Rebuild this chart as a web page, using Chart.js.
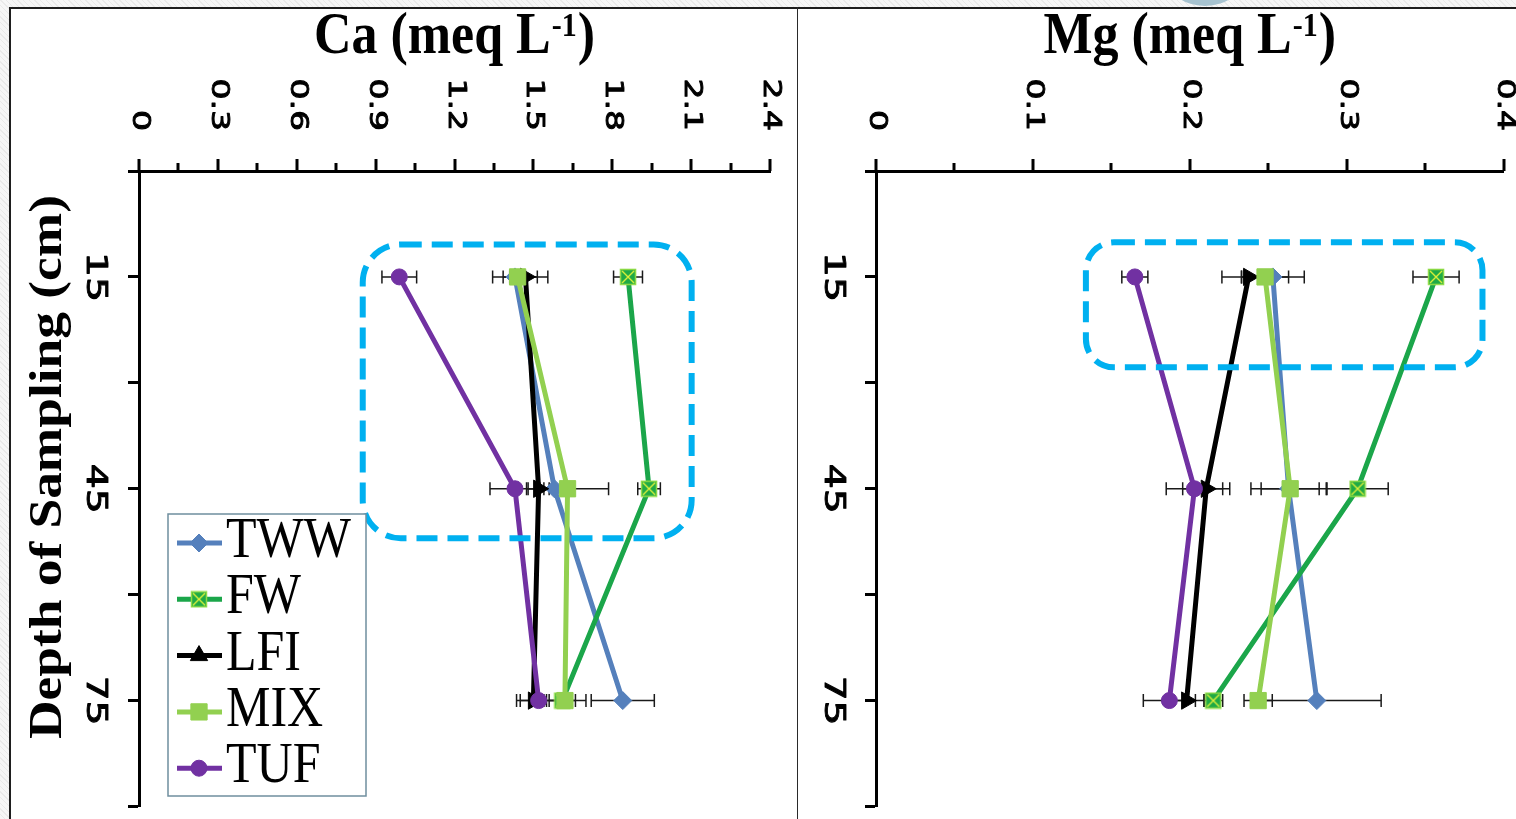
<!DOCTYPE html>
<html>
<head>
<meta charset="utf-8">
<script src="https://cdn.jsdelivr.net/npm/chart.js@4.4.1/dist/chart.umd.min.js"></script>
<style>
  html, body { margin: 0; padding: 0; }
  body {
    width: 1516px; height: 819px; overflow: hidden; position: relative;
    background: repeating-linear-gradient(45deg, #f6f6f6 0 3px, #e9e9e9 3px 4px);
  }
  #blob { position: absolute; left: 1165px; top: -58px; width: 80px; height: 64px; border-radius: 50%; background: #a7c3d0; }
  #frame { position: absolute; left: 9px; top: 7px; width: 1520px; height: 830px; background: #fff; border-left: 2px solid #1e1e1e; border-top: 2px solid #1e1e1e; }
  #divider { position: absolute; left: 797px; top: 7px; width: 1px; height: 812px; background: #2a2a2a; }
  canvas { position: absolute; left: 0; top: 0; }
</style>
</head>
<body>
<div id="blob"></div>
<div id="frame"></div>
<div id="divider"></div>
<canvas id="caChart" width="1516" height="819"></canvas>
<canvas id="mgChart" width="1516" height="819"></canvas>
<script>
// ---- data -------------------------------------------------------------
const depths = [15, 45, 75];
const seriesNames = ['TWW', 'FW', 'LFI', 'MIX', 'TUF'];

// Calcium, meq L-1 (mean and standard error per depth)
const caTWW = [1.43, 1.58, 1.84];
const caFW  = [1.86, 1.94, 1.61];
const caLFI = [1.47, 1.52, 1.50];
const caMIX = [1.44, 1.63, 1.62];
const caTUF = [0.99, 1.43, 1.52];
const caTWWErr = [0.085, 0.04, 0.12];
const caFWErr  = [0.055, 0.043, 0.05];
const caLFIErr = [0.085, 0.04, 0.05];
const caMIXErr = [0.03, 0.156, 0.08];
const caTUFErr = [0.066, 0.095, 0.084];

// Magnesium, meq L-1
const mgTWW = [0.253, 0.263, 0.281];
const mgFW  = [0.357, 0.307, 0.215];
const mgLFI = [0.2375, 0.2105, 0.198];
const mgMIX = [0.248, 0.264, 0.2436];
const mgTUF = [0.165, 0.203, 0.187];
const mgTWWErr = [0.02, 0.024, 0.041];
const mgFWErr  = [0.0147, 0.0195, 0.006];
const mgLFIErr = [0.017, 0.015, 0.0115];
const mgMIXErr = [0.015, 0.0185, 0.009];
const mgTUFErr = [0.0083, 0.018, 0.0166];

// axis tick labels
const caTicks = ['0', '0.3', '0.6', '0.9', '1.2', '1.5', '1.8', '2.1', '2.4'];
const mgTicks = ['0', '0.1', '0.2', '0.3', '0.4'];
const depthTicks = ['15', '45', '75'];

// highlighted regions (value range, depth range)
const caHighlight = { x: [0.851, 2.102], depth: [10.4, 52.0] };
const mgHighlight = { x: [0.1338, 0.3866], depth: [10.1, 27.8] };

// ---- styling ------------------------------------------------------------
const COLORS = { TWW: '#5580BC', FW: '#1BA64A', LFI: '#000000', MIX: '#92D050', TUF: '#7131A2' };

function fwMarker(size) {
  const c = document.createElement('canvas');
  c.width = size; c.height = size;
  const g = c.getContext('2d');
  g.fillStyle = '#1FAA45';
  g.fillRect(1, 1, size - 2, size - 2);
  g.strokeStyle = '#8EDB45'; g.lineWidth = 1.5;
  g.strokeRect(1.5, 1.5, size - 3, size - 3);
  g.strokeStyle = '#E1F23A'; g.lineWidth = 1.4;
  g.beginPath();
  g.moveTo(3, 3); g.lineTo(size - 3, size - 3);
  g.moveTo(size - 3, 3); g.lineTo(3, size - 3);
  g.stroke();
  return c;
}
const FW_MARK = fwMarker(18);

const MARKERS = {
  TWW: { style: 'rectRot', radius: 9, rotation: 0 },
  FW:  { style: FW_MARK, radius: 9, rotation: 0 },
  LFI: { style: 'triangle', radius: 10, rotation: 90 },
  MIX: { style: 'rect', radius: 11.5, rotation: 0 },
  TUF: { style: 'circle', radius: 8, rotation: 0 }
};

function makeDatasets(values, errors) {
  return seriesNames.map((name, k) => ({
    label: name,
    data: depths.map((d, i) => ({ x: values[k][i], y: d })),
    errors: errors[k],
    showLine: true,
    borderColor: COLORS[name],
    backgroundColor: COLORS[name],
    borderWidth: 5,
    pointStyle: MARKERS[name].style,
    pointRadius: MARKERS[name].radius,
    pointRotation: MARKERS[name].rotation,
    pointBackgroundColor: COLORS[name],
    pointBorderColor: COLORS[name],
    pointBorderWidth: 1,
    order: seriesNames.length - k
  }));
}

function drawText(ctx, text, x, y, o) {
  ctx.save();
  ctx.translate(x, y);
  ctx.rotate(o.rot || 0);
  ctx.scale(o.sx || 1, o.sy || 1);
  ctx.font = o.font;
  ctx.fillStyle = o.color || '#000';
  ctx.textAlign = o.align || 'left';
  ctx.textBaseline = o.baseline || 'alphabetic';
  ctx.fillText(text, 0, 0);
  if (o.stroke) {
    ctx.strokeStyle = o.color || '#000';
    ctx.lineWidth = o.stroke;
    ctx.lineJoin = 'round';
    ctx.strokeText(text, 0, 0);
  }
  ctx.restore();
}

function roundRect(ctx, x, y, w, h, r) {
  ctx.beginPath();
  ctx.moveTo(x + r, y);
  ctx.lineTo(x + w - r, y);
  ctx.arcTo(x + w, y, x + w, y + r, r);
  ctx.lineTo(x + w, y + h - r);
  ctx.arcTo(x + w, y + h, x + w - r, y + h, r);
  ctx.lineTo(x + r, y + h);
  ctx.arcTo(x, y + h, x, y + h - r, r);
  ctx.lineTo(x, y + r);
  ctx.arcTo(x, y, x + r, y, r);
  ctx.closePath();
}

// error bars under the series
const errorBars = {
  id: 'errorBars',
  beforeDatasetsDraw(chart) {
    const { ctx, scales: { x, y } } = chart;
    ctx.save();
    ctx.strokeStyle = '#1a1a1a';
    ctx.lineWidth = 1.5;
    chart.data.datasets.forEach(ds => {
      ds.data.forEach((p, i) => {
        const e = ds.errors[i];
        const py = y.getPixelForValue(p.y);
        const x0 = x.getPixelForValue(p.x - e);
        const x1 = x.getPixelForValue(p.x + e);
        ctx.beginPath();
        ctx.moveTo(x0, py); ctx.lineTo(x1, py);
        ctx.moveTo(x0, py - 6.5); ctx.lineTo(x0, py + 6.5);
        ctx.moveTo(x1, py - 6.5); ctx.lineTo(x1, py + 6.5);
        ctx.stroke();
      });
    });
    ctx.restore();
  }
};

// axis ticks/labels, titles, highlight box, legend
const panelDecor = {
  id: 'panelDecor',
  afterDraw(chart, args, o) {
    const { ctx, chartArea: area, scales: { x, y } } = chart;
    const tickFont = '25px "DejaVu Sans"';
    // x ticks: majors with labels, minors halfway between
    ctx.save();
    ctx.strokeStyle = '#000';
    ctx.lineWidth = 3;
    const majors = o.xTicks.map(Number);
    majors.forEach((v, i) => {
      const px = Math.round(x.getPixelForValue(v));
      ctx.beginPath(); ctx.moveTo(px, area.top); ctx.lineTo(px, area.top - 12); ctx.stroke();
      if (i < majors.length - 1) {
        const mx = Math.round(x.getPixelForValue((v + majors[i + 1]) / 2));
        ctx.beginPath(); ctx.moveTo(mx, area.top); ctx.lineTo(mx, area.top - 8); ctx.stroke();
      }
      drawText(ctx, o.xTicks[i], px, 131, { font: tickFont, rot: Math.PI / 2, sx: 1.32, align: 'right', baseline: 'middle', stroke: 0.9 });
    });
    ctx.restore();

    // depth tick labels
    depthTicks.forEach(t => {
      const py = y.getPixelForValue(Number(t));
      drawText(ctx, t, o.depthLabelX, py, { font: '28px "DejaVu Sans"', rot: Math.PI / 2, sx: 1.4, align: 'center', baseline: 'middle', stroke: 0.9 });
    });

    // panel title with superscript unit
    const cx = (area.left + area.right) / 2;
    const mainFont = 'bold 52px "Liberation Serif"';
    const supFont = 'bold 30px "Liberation Serif"';
    ctx.save();
    ctx.font = mainFont;
    const w1 = ctx.measureText(o.title[0]).width;
    const w3 = ctx.measureText(o.title[2]).width;
    ctx.font = supFont;
    const w2 = ctx.measureText(o.title[1]).width;
    ctx.restore();
    let tx = cx - (w1 + w2 + w3 + 2) / 2;
    drawText(ctx, o.title[0], tx, 53, { font: mainFont, sy: 1.12 });
    tx += w1 + 1;
    drawText(ctx, o.title[1], tx, 36, { font: supFont, sy: 1.12 });
    tx += w2 + 1;
    drawText(ctx, o.title[2], tx, 53, { font: mainFont, sy: 1.12 });

    // y axis title
    if (o.yTitle) {
      drawText(ctx, o.yTitle, 61, 467, { font: 'bold 46px "Liberation Serif"', rot: -Math.PI / 2, sx: 1.16, align: 'center' });
    }

    // highlighted region
    const h = o.highlight;
    const bx0 = x.getPixelForValue(h.x[0]), bx1 = x.getPixelForValue(h.x[1]);
    const by0 = y.getPixelForValue(h.depth[0]), by1 = y.getPixelForValue(h.depth[1]);
    ctx.save();
    ctx.strokeStyle = '#00B0F0';
    ctx.lineWidth = 6;
    ctx.setLineDash([21, 10]);
    roundRect(ctx, bx0, by0, bx1 - bx0, by1 - by0, o.highlightRadius);
    ctx.stroke();
    ctx.restore();

    // legend
    if (o.legend) {
      const L = o.legend;
      ctx.save();
      ctx.fillStyle = '#fff';
      ctx.fillRect(L.x, L.y, L.w, L.h);
      ctx.strokeStyle = '#6F8E9E';
      ctx.lineWidth = 1.5;
      ctx.strokeRect(L.x, L.y, L.w, L.h);
      chart.data.datasets.forEach((ds, i) => {
        const cy = L.firstRow + i * L.rowStep;
        ctx.strokeStyle = ds.borderColor;
        ctx.lineWidth = 5;
        ctx.beginPath(); ctx.moveTo(L.x + 9, cy); ctx.lineTo(L.x + 54, cy); ctx.stroke();
        ctx.fillStyle = ds.pointBackgroundColor;
        ctx.strokeStyle = ds.pointBorderColor;
        ctx.lineWidth = 1;
        Chart.helpers.drawPoint(ctx, { pointStyle: ds.pointStyle, radius: ds.pointRadius, rotation: 0, borderWidth: 1 }, L.x + 31, cy);
        drawText(ctx, ds.label, L.x + 58, cy + 14, { font: '50px "Liberation Serif"', sy: 1.15 });
      });
      ctx.restore();
    }
  }
};

function buildChart(canvasId, datasets, xMax, layout, decor) {
  return new Chart(document.getElementById(canvasId), {
    type: 'scatter',
    data: { datasets },
    options: {
      responsive: false,
      animation: false,
      events: [],
      layout: { padding: layout.padding },
      plugins: { legend: { display: false }, tooltip: { enabled: false }, panelDecor: decor },
      scales: {
        x: {
          type: 'linear', position: 'top', min: 0, max: xMax,
          grid: { display: false },
          border: { display: true, color: '#000', width: 3 },
          ticks: { display: false },
          afterFit: s => { s.height = layout.xHeight; }
        },
        y: {
          type: 'linear', reverse: true, min: 0, max: 90,
          grid: { display: true, drawOnChartArea: false, drawTicks: true, tickLength: 11, tickWidth: 3, tickColor: '#000', color: '#000' },
          border: { display: true, color: '#000', width: 3 },
          ticks: { display: false, stepSize: 15 },
          afterFit: s => { s.width = layout.yWidth; }
        }
      }
    },
    plugins: [errorBars, panelDecor]
  });
}

function build() {
  buildChart('caChart',
    makeDatasets([caTWW, caFW, caLFI, caMIX, caTUF], [caTWWErr, caFWErr, caLFIErr, caMIXErr, caTUFErr]),
    2.4,
    { padding: { left: 0, top: 0, right: 746, bottom: 9 }, xHeight: 171, yWidth: 139 },
    {
      xTicks: caTicks, depthLabelX: 94,
      title: ['Ca (meq L', '-1', ')'],
      yTitle: 'Depth of Sampling (cm)',
      highlight: caHighlight, highlightRadius: 38,
      legend: { x: 168, y: 514, w: 198, h: 282, firstRow: 543, rowStep: 56.3 }
    });

  buildChart('mgChart',
    makeDatasets([mgTWW, mgFW, mgLFI, mgMIX, mgTUF], [mgTWWErr, mgFWErr, mgLFIErr, mgMIXErr, mgTUFErr]),
    0.4,
    { padding: { left: 798, top: 0, right: 12, bottom: 6 }, xHeight: 171, yWidth: 78 },
    {
      xTicks: mgTicks, depthLabelX: 832,
      title: ['Mg (meq L', '-1', ')'],
      yTitle: null,
      highlight: mgHighlight, highlightRadius: 28,
      legend: null
    });
}

Promise.all([
  document.fonts.load('bold 52px "Liberation Serif"'),
  document.fonts.load('50px "Liberation Serif"'),
  document.fonts.load('25px "DejaVu Sans"')
]).then(build, build);
</script>
</body>
</html>
